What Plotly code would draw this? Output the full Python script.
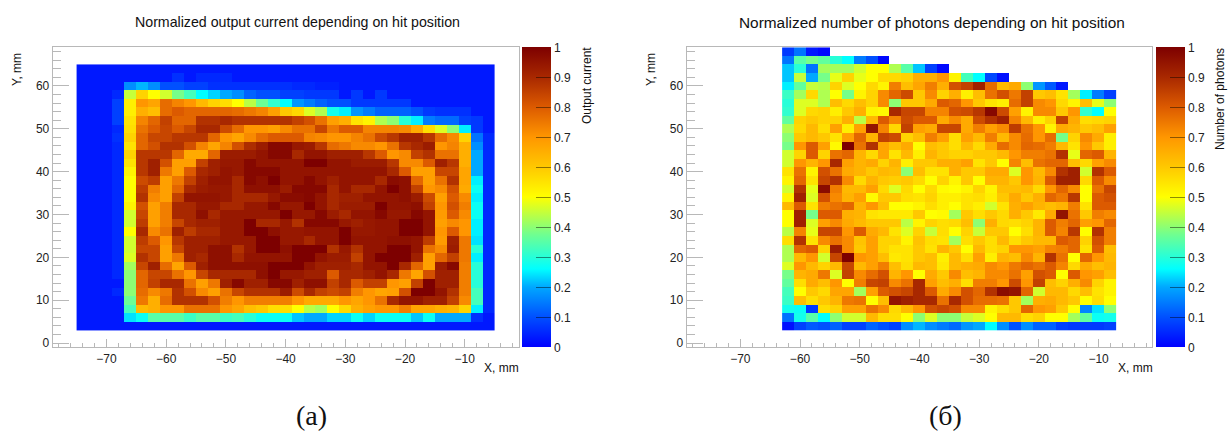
import plotly.graph_objects as go

_ = None
x_left = list(range(-74, -4, 2))
y_left = list(range(64, 2, -2))
x_right = list(range(-62, -6, 2))
y_right = list(range(68, 2, -2))

current = [
[3,3,3,3,3,3,3,3,3,3,3,3,3,3,3,3,3,3,3,3,3,3,3,3,3,3,3,3,3,3,3,3,3,3,3],
[3,3,3,3,3,3,3,3,6,3,5,5,5,3,3,3,3,3,3,3,3,3,3,3,3,3,3,3,3,3,3,3,3,3,3],
[3,3,3,3,17,21,17,10,10,8,8,6,6,6,6,6,6,6,5,5,4,4,3,3,3,3,3,3,3,3,3,3,3,3,3],
[3,3,3,5,45,58,50,46,38,33,26,23,20,17,12,10,10,8,8,7,7,7,3,7,3,7,3,3,3,3,3,3,3,3,3],
[3,3,3,8,53,70,67,77,73,70,63,58,56,50,44,37,31,26,18,15,12,10,10,7,7,7,7,7,3,3,3,3,3,3,3],
[3,3,3,8,53,65,62,77,80,78,78,78,78,77,75,73,68,60,57,47,43,28,25,18,15,12,12,12,10,7,6,6,6,3,3],
[3,3,3,8,55,73,78,85,78,78,88,88,90,88,88,88,88,88,85,82,76,68,65,55,52,43,40,30,25,15,13,13,8,7,3],
[3,3,3,5,56,76,80,84,80,84,90,90,83,77,70,70,68,72,76,76,84,75,80,80,73,73,73,72,66,56,47,40,25,7,3],
[3,3,3,6,58,78,84,84,87,87,87,78,70,67,72,77,80,80,80,73,72,70,70,73,76,83,87,92,92,87,77,72,58,14,5],
[3,3,3,5,55,78,82,88,88,82,73,67,73,82,89,93,98,98,94,93,87,77,75,72,72,70,76,87,90,93,70,73,65,17,5],
[3,3,3,5,58,87,87,87,78,66,66,78,93,93,93,95,98,98,90,95,95,92,92,92,87,80,70,72,85,88,76,76,65,20,5],
[3,3,3,5,55,87,92,82,68,68,85,92,94,94,98,95,95,95,95,100,100,95,95,93,93,93,87,72,72,80,92,87,65,20,5],
[3,3,3,5,52,87,92,75,68,80,90,92,95,94,98,98,98,95,95,95,95,95,95,95,95,95,90,80,68,68,84,84,67,20,5],
[3,3,3,5,50,83,86,68,75,85,92,95,95,90,98,96,100,95,95,98,95,92,95,95,95,90,97,96,78,68,76,88,67,25,5],
[3,3,3,5,50,86,74,68,78,90,93,94,94,90,96,96,96,93,98,98,98,90,95,90,90,95,100,96,85,70,72,82,66,27,5],
[3,3,3,5,50,88,72,68,85,95,95,95,94,90,90,90,94,97,97,98,95,90,92,92,95,95,95,96,93,83,68,80,72,25,5],
[3,3,3,5,52,82,68,74,90,90,94,94,90,90,94,94,98,94,94,100,95,90,93,93,93,100,95,95,96,85,70,82,74,27,5],
[3,3,3,5,46,84,68,74,90,90,96,90,94,94,94,94,94,100,94,94,98,93,90,95,95,98,94,94,98,95,69,80,72,27,5],
[3,3,3,5,46,86,68,74,84,90,92,92,94,94,100,90,90,94,88,98,98,98,94,92,94,95,95,100,100,95,68,72,70,25,5],
[3,3,3,5,50,90,72,76,92,86,90,90,94,94,100,100,96,94,94,95,95,95,100,94,94,95,95,100,100,95,70,80,70,25,5],
[3,3,3,5,46,86,80,70,87,92,92,92,94,94,94,100,100,94,94,90,95,95,100,95,95,95,96,96,95,86,69,92,75,24,5],
[3,3,3,5,46,84,84,68,84,92,92,96,96,88,94,100,100,96,100,100,100,88,94,88,95,95,100,100,95,76,72,93,75,30,5],
[3,3,3,5,47,88,84,68,75,92,90,96,96,90,95,95,95,95,100,100,95,93,93,85,95,100,100,100,92,68,78,85,75,25,5],
[3,3,3,5,42,84,92,77,67,80,92,96,96,96,96,96,100,100,100,95,92,92,92,90,95,95,100,90,78,68,93,98,74,30,5],
[3,3,3,5,40,78,84,84,76,70,84,90,90,90,90,96,100,94,94,92,92,80,90,90,92,95,90,75,67,82,92,92,74,30,5],
[3,3,3,3,40,78,85,90,90,76,68,75,92,98,92,92,98,98,92,96,96,85,90,80,85,85,70,68,85,100,92,92,74,30,5],
[3,3,3,5,40,77,72,75,88,82,72,68,76,84,88,88,88,93,83,90,85,83,85,74,70,67,68,82,100,100,95,88,74,33,5],
[3,3,3,3,37,75,65,77,88,88,88,82,74,70,74,74,74,74,70,66,66,66,70,67,70,76,90,95,95,92,92,85,72,33,5],
[3,3,3,3,33,63,65,70,70,76,76,76,70,67,62,60,56,56,50,44,42,50,57,65,68,70,70,74,67,67,65,64,58,25,5],
[3,3,3,3,24,27,35,35,35,32,35,35,32,33,30,27,27,27,22,20,20,23,23,27,23,27,27,27,22,27,20,20,20,6,3],
[3,3,3,3,3,3,3,3,3,3,3,3,3,3,3,3,3,3,3,3,3,3,3,3,3,3,3,3,3,3,3,3,3,3,3],
]

photons = [
[7,14,3,1,_,_,_,_,_,_,_,_,_,_,_,_,_,_,_,_,_,_,_,_,_,_,_,_],
[14,35,38,36,30,26,15,10,1,_,_,_,_,_,_,_,_,_,_,_,_,_,_,_,_,_,_,_],
[22,30,14,42,42,42,46,50,50,43,35,22,8,1,_,_,_,_,_,_,_,_,_,_,_,_,_,_],
[22,45,20,38,48,58,48,50,57,57,58,65,65,70,52,33,26,9,2,_,_,_,_,_,_,_,_,_],
[25,36,45,44,58,47,50,57,52,74,62,67,74,65,82,85,92,77,63,66,40,18,11,3,_,_,_,_],
[32,42,57,43,50,38,52,58,72,78,83,60,72,58,65,53,62,76,82,75,85,60,62,55,42,25,15,8],
[30,47,47,43,62,57,62,58,72,40,60,60,66,80,78,70,60,55,53,77,85,72,70,57,52,62,48,40],
[31,47,57,58,53,60,65,52,51,90,84,84,73,73,82,83,87,98,83,68,52,72,72,60,70,31,26,50],
[36,58,60,58,58,65,44,63,80,73,83,80,80,66,72,66,83,88,92,73,63,53,58,85,66,56,57,58],
[43,57,63,56,68,53,68,95,73,57,85,68,66,84,84,66,74,68,72,86,76,70,52,66,64,60,62,68],
[40,60,63,60,55,68,78,64,85,83,58,62,74,68,56,68,63,74,63,72,77,70,77,38,58,72,66,53],
[38,70,80,68,51,100,76,88,67,62,66,50,62,60,56,63,57,66,77,72,78,77,74,63,55,70,60,53],
[46,58,80,58,76,78,64,57,67,55,63,53,64,60,58,58,60,60,63,70,74,74,76,88,48,78,80,64],
[46,70,64,70,90,68,64,66,58,64,53,60,60,65,65,68,55,60,50,73,62,76,78,78,62,57,68,72],
[55,76,52,82,76,66,64,60,63,62,40,62,55,55,65,60,60,66,66,47,70,63,72,88,92,46,88,80],
[52,78,55,84,88,72,57,64,60,59,60,57,50,58,52,60,50,64,64,60,70,64,80,92,92,57,80,72],
[46,88,48,97,74,63,63,68,57,47,57,50,57,51,50,52,58,52,62,62,63,57,70,78,72,50,76,84],
[52,92,47,82,72,64,68,51,60,60,56,55,58,53,53,55,56,53,60,66,60,65,78,75,87,50,80,82],
[63,80,55,74,76,78,64,70,62,50,50,52,56,53,50,55,53,46,55,65,68,64,62,64,74,55,80,80],
[50,92,38,80,80,65,64,55,54,54,54,60,50,51,42,60,56,60,57,65,60,54,66,95,76,60,74,72],
[50,92,47,68,72,66,63,60,60,60,44,52,58,56,57,62,40,65,57,56,58,64,80,74,78,68,70,78],
[44,73,48,84,84,70,80,66,63,55,47,58,45,56,50,58,45,60,60,50,56,64,80,73,87,50,88,74],
[56,88,55,72,76,72,61,68,58,58,52,61,56,55,42,56,60,56,63,56,60,63,63,80,78,58,82,74],
[43,78,80,58,93,72,60,68,58,55,55,60,55,64,60,50,63,56,58,70,70,68,73,74,78,55,80,62],
[43,63,70,46,84,100,70,68,62,54,55,60,62,53,63,56,68,53,64,62,72,64,88,76,50,78,70,63],
[47,70,63,58,63,84,63,68,74,62,56,63,62,54,63,65,66,72,70,75,78,76,80,73,57,66,62,64],
[38,64,66,75,47,85,72,77,82,64,70,50,66,60,72,62,64,72,72,76,68,82,80,50,80,70,68,62],
[36,56,66,62,70,50,74,84,85,72,76,90,68,62,65,56,74,74,70,83,70,85,62,58,65,72,58,52],
[33,50,60,57,67,67,42,68,80,82,84,90,80,66,72,82,78,88,97,95,78,46,63,63,57,62,55,52],
[32,62,56,60,64,75,76,50,62,95,92,90,90,76,90,82,77,77,76,60,42,65,66,63,60,50,56,50],
[28,27,7,56,58,68,68,76,72,57,63,70,82,84,82,72,72,52,56,60,78,70,68,60,50,16,24,40],
[14,28,35,26,40,46,46,63,56,56,50,40,47,40,40,45,47,50,63,63,56,58,50,50,42,36,27,28],
[2,8,11,10,12,8,8,12,10,8,17,21,17,15,13,18,20,26,17,10,17,12,12,8,7,7,7,8],
]

x_ticks = [-70, -60, -50, -40, -30, -20, -10]
y_ticks = [0, 10, 20, 30, 40, 50, 60]
bar_ticks = [0, 0.1, 0.2, 0.3, 0.4, 0.5, 0.6, 0.7, 0.8, 0.9, 1]
bar_labels = ["0", "0.1", "0.2", "0.3", "0.4", "0.5", "0.6", "0.7", "0.8", "0.9", "1"]

W, H = 1228, 434
FONT = "Liberation Sans"
GRAY = "#b8b8b8"
scale = [
    [0.00, "#0000ff"], [0.10, "#0050ff"], [0.20, "#00a8ff"], [0.26, "#00ffff"],
    [0.375, "#70ff90"], [0.50, "#ffff00"], [0.60, "#ffc800"], [0.70, "#ff9600"],
    [0.80, "#dc5a00"], [0.90, "#a82800"], [1.00, "#7d0000"],
]


def to_frac(rows):
    return [[None if v is None else v / 100 for v in r] for r in rows[::-1]]


def bar(px):
    return dict(
        x=px / W, xanchor="left", xpad=0, y=1 - 47.3 / H, yanchor="top", ypad=0,
        len=300 / H, lenmode="fraction", thickness=29, thicknessmode="pixels",
        outlinewidth=0, ticks="inside", ticklen=15, tickwidth=1,
        tickcolor="rgba(0,0,0,0.45)", tickvals=bar_ticks, ticktext=bar_labels,
        tickfont=dict(family=FONT, size=12, color="#222"),
    )


fig = go.Figure()
fig.add_trace(go.Heatmap(x=x_left, y=y_left[::-1], z=to_frac(current), zmin=0, zmax=1,
                         colorscale=scale, colorbar=bar(521.7), hoverongaps=False))
fig.add_trace(go.Heatmap(x=x_right, y=y_right[::-1], z=to_frac(photons), zmin=0, zmax=1,
                         colorscale=scale, colorbar=bar(1155.7), hoverongaps=False,
                         xaxis="x2", yaxis="y2"))

xa = dict(range=[-79, -1], tickvals=x_ticks, ticks="inside", ticklen=8, tickcolor=GRAY,
          tickwidth=1, showgrid=False, zeroline=False, showline=True, linecolor=GRAY,
          linewidth=1, mirror=True,
          minor=dict(dtick=2, tick0=0, ticks="inside", ticklen=4, tickcolor=GRAY, showgrid=False),
          tickfont=dict(family=FONT, size=12, color="#222"))
ya = dict(range=[-1, 69], tickvals=y_ticks, ticks="inside", ticklen=16, tickcolor=GRAY,
          tickwidth=1, showgrid=False, zeroline=False, showline=True, linecolor=GRAY,
          linewidth=1, mirror=True,
          minor=dict(dtick=2, tick0=0, ticks="inside", ticklen=8, tickcolor=GRAY, showgrid=False),
          tickfont=dict(family=FONT, size=12, color="#222"),
          domain=[1 - 347.3 / H, 1 - 47.3 / H])

fig.update_layout(
    width=W, height=H, margin=dict(l=0, r=0, t=0, b=0, autoexpand=False),
    paper_bgcolor="white", plot_bgcolor="white", showlegend=False,
    xaxis=dict(xa, domain=[52.7 / W, 518.5 / W], anchor="y"),
    yaxis=dict(ya, anchor="x"),
    xaxis2=dict(xa, domain=[686.6 / W, 1152.3 / W], anchor="y2"),
    yaxis2=dict(ya, anchor="x2"),
)


def note(text, px, py, size, angle=0, family=FONT, anchor="center", color="#111"):
    fig.add_annotation(text=text, x=px / W, y=1 - py / H, xref="paper", yref="paper",
                       showarrow=False, xanchor=anchor, yanchor="middle", textangle=angle,
                       font=dict(family=family, size=size, color=color))


note("Normalized output current depending on hit position", 297.5, 22, 14.2)
note("Normalized number of photons depending on hit position", 932, 22, 15.4)
note("X, mm", 521, 368, 12, anchor="right")
note("X, mm", 1155, 368, 12, anchor="right")
note("Y, mm", 17, 70, 12, angle=-90)
note("Y, mm", 651, 70, 12, angle=-90)
note("Output current", 587, 86, 12, angle=-90)
note("Number of photons", 1220, 99, 12, angle=-90)
note("(а)", 311, 415, 28, family="Liberation Serif")
note("(б)", 945, 415, 28, family="Liberation Serif")

fig.write_html("out.html", config={"displayModeBar": False},
               post_script="document.body.style.margin='0';")
